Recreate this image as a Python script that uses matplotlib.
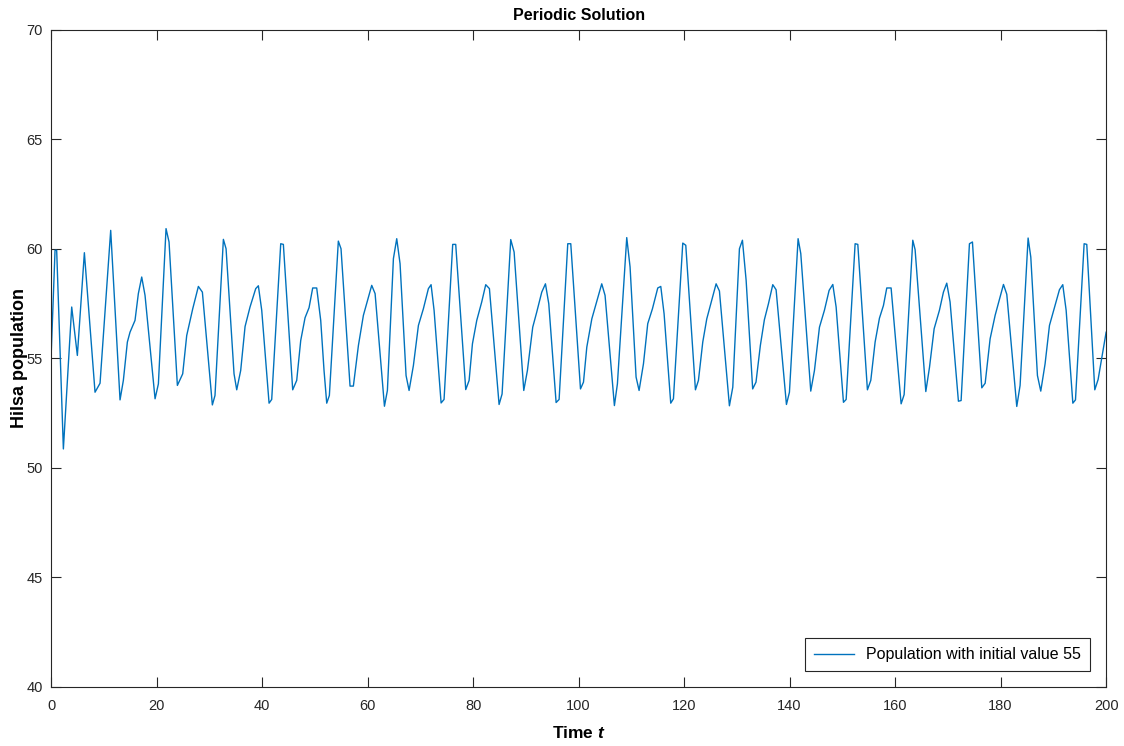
import os

os.environ.setdefault("MPLCONFIGDIR", "/tmp/matplotlib")

import matplotlib

matplotlib.use("Agg")

import matplotlib.pyplot as plt

# vertices (time, population)
time_t = [
    0.0, 0.76, 1.07, 2.34, 3.92, 4.99, 6.32, 8.34, 9.29, 11.31,
    13.08, 13.71, 14.47, 14.97, 15.92, 16.55, 17.19, 17.82, 19.72, 20.35,
    21.8, 22.37, 23.95, 24.96, 25.72, 26.86, 27.93, 28.69, 30.58, 31.08,
    32.67, 33.18, 34.69, 35.2, 35.95, 36.78, 37.72, 38.8, 39.3, 39.94,
    41.33, 41.83, 43.54, 44.04, 45.81, 46.57, 47.33, 48.15, 48.91, 49.6,
    50.36, 51.12, 51.75, 52.26, 52.76, 54.46, 54.97, 56.68, 57.31, 58.27,
    59.21, 60.79, 61.43, 63.2, 63.76, 64.9, 65.53, 66.16, 67.3, 67.87,
    68.69, 69.64, 70.58, 71.53, 72.04, 72.61, 73.94, 74.5, 76.14, 76.71,
    78.61, 79.25, 79.88, 80.7, 81.64, 82.4, 83.1, 84.93, 85.5, 87.14,
    87.78, 89.61, 90.3, 91.31, 92.07, 93.02, 93.72, 94.35, 95.74, 96.31,
    97.95, 98.52, 100.36, 100.93, 101.56, 102.51, 104.39, 105.02, 106.79, 107.36,
    109.13, 109.76, 110.9, 111.47, 112.3, 113.11, 114.0, 115.01, 115.58, 116.21,
    117.47, 117.98, 119.75, 120.32, 122.15, 122.72, 123.54, 124.3, 126.07, 126.7,
    128.59, 129.23, 130.49, 131.06, 131.76, 133.0, 133.63, 134.46, 135.22, 135.99,
    136.81, 137.44, 139.4, 139.97, 141.61, 142.12, 144.01, 144.71, 145.66, 146.6,
    147.49, 148.19, 148.82, 150.21, 150.72, 152.42, 152.93, 154.75, 155.39, 156.21,
    157.03, 157.79, 158.42, 159.24, 161.14, 161.71, 163.35, 163.79, 165.82, 166.52,
    167.4, 168.4, 169.16, 169.79, 170.42, 172.0, 172.51, 174.09, 174.66, 176.43,
    177.07, 178.01, 178.96, 180.54, 181.17, 183.06, 183.69, 185.21, 185.72, 186.98,
    187.61, 188.43, 189.26, 190.14, 191.15, 191.78, 192.42, 193.69, 194.19, 195.83,
    196.33, 197.85, 198.48, 200.0,
]
population = [
    55.0, 59.94, 59.94, 50.87, 57.35, 55.14, 59.83, 53.46, 53.87, 60.85,
    53.11, 54.0, 55.75, 56.2, 56.74, 57.96, 58.72, 57.88, 53.16, 53.84,
    60.93, 60.32, 53.77, 54.3, 56.05, 57.27, 58.29, 58.03, 52.88, 53.31,
    60.44, 60.01, 54.3, 53.57, 54.45, 56.46, 57.35, 58.19, 58.32, 57.2,
    52.96, 53.13, 60.24, 60.21, 53.57, 54.0, 55.82, 56.86, 57.32, 58.22,
    58.22, 56.74, 54.45, 52.96, 53.31, 60.36, 60.01, 53.74, 53.74, 55.6,
    56.97, 58.34, 57.96, 52.82, 53.54, 59.56, 60.47, 59.33, 54.22, 53.54,
    54.68, 56.51, 57.27, 58.19, 58.37, 57.2, 52.97, 53.13, 60.21, 60.21,
    53.58, 54.0, 55.67, 56.74, 57.58, 58.37, 58.19, 52.9, 53.38, 60.43,
    59.86, 53.54, 54.45, 56.43, 57.12, 58.03, 58.41, 57.5, 52.99, 53.13,
    60.24, 60.24, 53.61, 53.92, 55.52, 56.81, 58.41, 57.88, 52.85, 53.84,
    60.52, 59.18, 54.15, 53.54, 54.76, 56.59, 57.27, 58.22, 58.29, 57.04,
    52.96, 53.16, 60.27, 60.17, 53.57, 54.0, 55.75, 56.81, 58.41, 58.08,
    52.84, 53.69, 60.01, 60.4, 58.57, 53.61, 53.92, 55.6, 56.77, 57.5,
    58.37, 58.14, 52.9, 53.46, 60.47, 59.79, 53.51, 54.45, 56.43, 57.2,
    58.11, 58.38, 57.35, 53.0, 53.13, 60.24, 60.21, 53.57, 54.0, 55.75,
    56.84, 57.42, 58.22, 58.22, 52.93, 53.35, 60.4, 59.97, 53.49, 54.6,
    56.36, 57.2, 58.03, 58.44, 57.58, 53.05, 53.08, 60.24, 60.32, 53.66,
    53.87, 55.9, 56.97, 58.38, 57.93, 52.81, 53.77, 60.5, 59.63, 54.22,
    53.51, 54.76, 56.51, 57.27, 58.14, 58.37, 57.2, 52.96, 53.11, 60.24,
    60.21, 53.57, 54.04, 56.2,
]
x_ticks = [0, 20, 40, 60, 80, 100, 120, 140, 160, 180, 200]
y_ticks = [40, 45, 50, 55, 60, 65, 70]

plt.rcParams["font.family"] = ["Liberation Sans", "DejaVu Sans"]
plt.rcParams["mathtext.fontset"] = "custom"
plt.rcParams["mathtext.it"] = "Liberation Sans:italic:bold"

fig = plt.figure(figsize=(11.24, 7.46), dpi=100)
ax = fig.add_axes([0.0454, 0.0791, 0.9387, 0.8807])

ax.plot(time_t, population, color="#0072BD", linewidth=1.0,
        label="Population with initial value 55")

ax.set_xlim(0, 200)
ax.set_ylim(40, 70)
ax.set_xticks(x_ticks)
ax.set_yticks(y_ticks)
ax.tick_params(direction="in", length=7.5, width=0.8, colors="#262626",
               labelsize=10.5, top=True, right=True)
ax.tick_params(axis="x", pad=9)
ax.tick_params(axis="y", pad=6)
for side in ax.spines.values():
    side.set_color("#262626")
    side.set_linewidth(0.8)

ax.set_title("Periodic Solution", fontsize=11.5, fontweight="bold", pad=7)
ax.set_xlabel("Time $t$", fontsize=12.5, fontweight="bold", labelpad=8)
ax.set_ylabel("Hilsa population", fontsize=13, fontweight="bold")
ax.yaxis.set_label_coords(-0.0215, 0.5)

leg = ax.legend(loc="lower right", fontsize=11.5, handlelength=2.5,
                fancybox=False, framealpha=1, edgecolor="#262626",
                borderaxespad=1.0, borderpad=0.55)
leg.get_frame().set_linewidth(0.8)

fig.savefig("out.png", dpi=100)
plt.close(fig)
